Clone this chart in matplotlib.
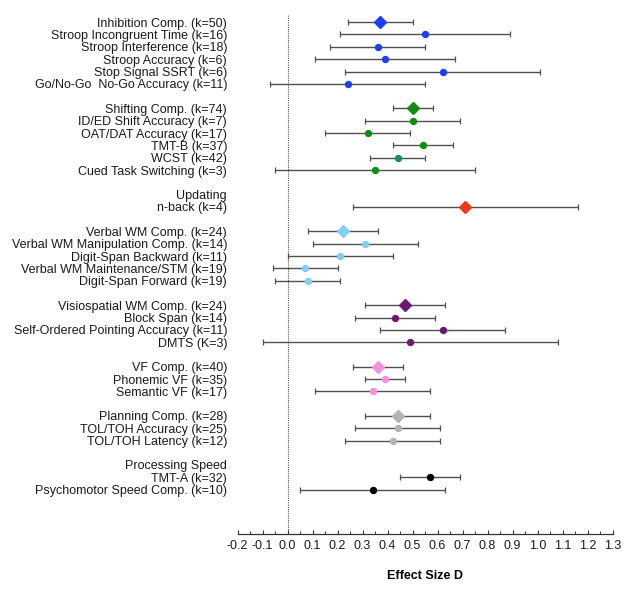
import matplotlib
matplotlib.use("Agg")
import matplotlib.pyplot as plt
from matplotlib.ticker import MultipleLocator

plt.rcParams['font.family'] = ['Liberation Sans', 'DejaVu Sans']

# each domain: labels, effect size D, CI low, CI high (None = header row)
inhibition_labels = ["Inhibition Comp. (k=50)", "Stroop Incongruent Time (k=16)",
                     "Stroop Interference (k=18)", "Stroop Accuracy (k=6)",
                     "Stop Signal SSRT (k=6)", "Go/No-Go  No-Go Accuracy (k=11)"]
inhibition_d = [0.37, 0.55, 0.36, 0.39, 0.62, 0.24]
inhibition_lo = [0.24, 0.21, 0.17, 0.11, 0.23, -0.07]
inhibition_hi = [0.50, 0.89, 0.55, 0.67, 1.01, 0.55]

shifting_labels = ["Shifting Comp. (k=74)", "ID/ED Shift Accuracy (k=7)",
                   "OAT/DAT Accuracy (k=17)", "TMT-B (k=37)", "WCST (k=42)",
                   "Cued Task Switching (k=3)"]
shifting_d = [0.50, 0.50, 0.32, 0.54, 0.44, 0.35]
shifting_lo = [0.42, 0.31, 0.15, 0.42, 0.33, -0.05]
shifting_hi = [0.58, 0.69, 0.49, 0.66, 0.55, 0.75]

updating_labels = ["Updating", "n-back (k=4)"]
updating_d = [None, 0.71]
updating_lo = [None, 0.26]
updating_hi = [None, 1.16]

verbal_labels = ["Verbal WM Comp. (k=24)", "Verbal WM Manipulation Comp. (k=14)",
                 "Digit-Span Backward (k=11)", "Verbal WM Maintenance/STM (k=19)",
                 "Digit-Span Forward (k=19)"]
verbal_d = [0.22, 0.31, 0.21, 0.07, 0.08]
verbal_lo = [0.08, 0.10, 0.00, -0.06, -0.05]
verbal_hi = [0.36, 0.52, 0.42, 0.20, 0.21]

visuo_labels = ["Visiospatial WM Comp. (k=24)", "Block Span (k=14)",
                "Self-Ordered Pointing Accuracy (k=11)", "DMTS (K=3)"]
visuo_d = [0.47, 0.43, 0.62, 0.49]
visuo_lo = [0.31, 0.27, 0.37, -0.10]
visuo_hi = [0.63, 0.59, 0.87, 1.08]

vf_labels = ["VF Comp. (k=40)", "Phonemic VF (k=35)", "Semantic VF (k=17)"]
vf_d = [0.36, 0.39, 0.34]
vf_lo = [0.26, 0.31, 0.11]
vf_hi = [0.46, 0.47, 0.57]

planning_labels = ["Planning Comp. (k=28)", "TOL/TOH Accuracy (k=25)",
                   "TOL/TOH Latency (k=12)"]
planning_d = [0.44, 0.44, 0.42]
planning_lo = [0.31, 0.27, 0.23]
planning_hi = [0.57, 0.61, 0.61]

speed_labels = ["Processing Speed", "TMT-A (k=32)", "Psychomotor Speed Comp. (k=10)"]
speed_d = [None, 0.57, 0.34]
speed_lo = [None, 0.45, 0.05]
speed_hi = [None, 0.69, 0.63]

# composite scores get a diamond
diamond_labels = {"Inhibition Comp. (k=50)", "Shifting Comp. (k=74)", "n-back (k=4)",
                  "Verbal WM Comp. (k=24)", "Visiospatial WM Comp. (k=24)",
                  "VF Comp. (k=40)", "Planning Comp. (k=28)"}

groups = [
    (inhibition_labels, inhibition_d, inhibition_lo, inhibition_hi, '#1c40ee'),
    (shifting_labels, shifting_d, shifting_lo, shifting_hi, '#128c14'),
    (updating_labels, updating_d, updating_lo, updating_hi, '#f2381a'),
    (verbal_labels, verbal_d, verbal_lo, verbal_hi, '#84cdf5'),
    (visuo_labels, visuo_d, visuo_lo, visuo_hi, '#6c1a6f'),
    (vf_labels, vf_d, vf_lo, vf_hi, '#f48fe0'),
    (planning_labels, planning_d, planning_lo, planning_hi, '#b3b3b3'),
    (speed_labels, speed_d, speed_lo, speed_hi, 'black'),
]

fig = plt.figure(figsize=(6.24, 5.90), dpi=100)
ax = fig.add_axes([237.5 / 624, 56 / 590, 375 / 624, 519 / 590])

gap = 1.96
y = 0.0
ypos, ylabs = [], []
for labels, d, lo, hi, color in groups:
    for i, lab in enumerate(labels):
        ypos.append(y)
        ylabs.append(lab)
        if d[i] is not None:
            ax.errorbar([d[i]], [y], xerr=[[d[i] - lo[i]], [hi[i] - d[i]]],
                        fmt='none', ecolor='#505050', elinewidth=1.0,
                        capsize=2, capthick=0.9, zorder=2)
            c = '#149068' if lab == "WCST (k=42)" else color
            if lab in diamond_labels:
                ax.plot(d[i], y, marker='D', markersize=6.3, color=c, mec=c,
                        linestyle='none', zorder=3)
            else:
                ax.plot(d[i], y, marker='o', markersize=4.3, color=c, mec=c,
                        linestyle='none', zorder=3)
        y += 1
    y += gap - 1

ax.axvline(0, color='#555555', linestyle=(0, (1, 1)), linewidth=0.8, zorder=1)

ax.set_xlim(-0.2, 1.3)
ax.set_ylim(41.3, -0.565)
ax.set_yticks(ypos)
ax.set_yticklabels(ylabs)
ax.tick_params(axis='y', length=0, pad=7.5, labelsize=9, labelcolor='#1a1a1a')

xt = [round(-0.2 + 0.1 * k, 1) for k in range(16)]
ax.set_xticks(xt)
ax.set_xticklabels(["%.1f" % v for v in xt])
ax.xaxis.set_minor_locator(MultipleLocator(0.05))
ax.tick_params(axis='x', which='major', direction='in', length=3.2, width=0.8,
               labelsize=9, pad=4, color='#333333', labelcolor='#1a1a1a')
ax.tick_params(axis='x', which='minor', direction='in', length=2.3, width=0.7,
               color='#333333')
for s in ['top', 'right', 'left']:
    ax.spines[s].set_visible(False)
ax.spines['bottom'].set_linewidth(0.9)
ax.spines['bottom'].set_color('#333333')
ax.set_xlabel("Effect Size D", fontsize=9, fontweight='bold', labelpad=13)

fig.savefig("out.png", dpi=100)
